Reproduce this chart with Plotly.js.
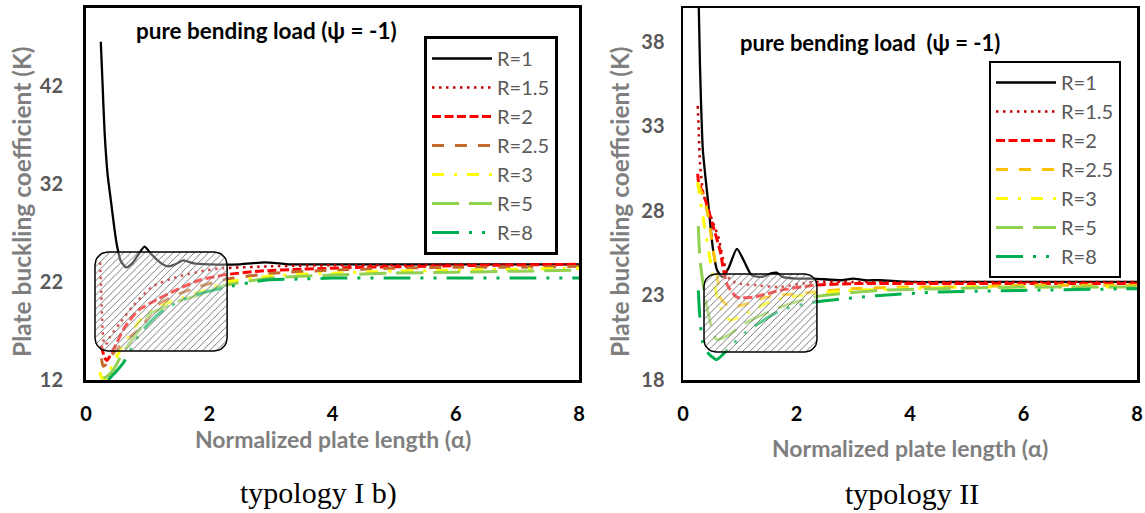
<!DOCTYPE html>
<html>
<head>
<meta charset="utf-8">
<script src="https://cdn.plot.ly/plotly-3.0.1.min.js"></script>
<style>
html,body{margin:0;padding:0;background:#ffffff;}
#chart{width:1145px;height:513px;}
</style>
</head>
<body>
<div id="chart"></div>
<script>
// ---------------- DATA ----------------
const seriesNames = ['R=1', 'R=1.5', 'R=2', 'R=2.5', 'R=3', 'R=5', 'R=8'];

// typology I b)  (alpha, K)
const aI_R1  = [0.24, 0.27, 0.30, 0.35, 0.41, 0.46, 0.50, 0.56, 0.65, 0.75, 0.85, 0.95, 1.05, 1.20, 1.33, 1.45, 1.58, 1.75, 2.0, 2.5, 2.9, 3.3, 4, 5, 6, 7, 8];
const kI_R1  = [46.5, 42.0, 37.5, 33.0, 30.0, 27.5, 25.8, 24.2, 23.5, 23.9, 24.8, 25.6, 24.9, 24.0, 23.6, 23.8, 24.2, 23.9, 23.8, 23.8, 24.0, 23.8, 23.8, 23.8, 23.8, 23.8, 23.8];
const aI_R15 = [0.23, 0.25, 0.27, 0.30, 0.35, 0.39, 0.55, 0.77, 1.07, 1.47, 1.96, 2.22, 3, 4, 5, 6, 7, 8];
const kI_R15 = [24.0, 20.5, 17.0, 15.6, 15.8, 16.4, 17.8, 19.6, 21.5, 22.5, 23.2, 23.4, 23.6, 23.7, 23.7, 23.8, 23.8, 23.8];
const aI_R2  = [0.25, 0.30, 0.34, 0.42, 0.50, 0.63, 0.85, 1.15, 1.47, 1.85, 2.22, 2.8, 3.5, 4.5, 5.5, 6.5, 8];
const kI_R2  = [15.5, 14.3, 14.0, 14.8, 15.8, 17.4, 19.1, 20.2, 21.2, 22.2, 22.7, 23.1, 23.3, 23.5, 23.6, 23.7, 23.8];
const aI_R25 = [0.25, 0.28, 0.33, 0.45, 0.66, 0.90, 1.15, 1.47, 1.82, 2.22, 3.04, 4, 5, 6, 7, 8];
const kI_R25 = [14.2, 13.4, 13.6, 14.8, 16.1, 17.4, 19.6, 20.7, 21.5, 22.2, 22.9, 23.2, 23.4, 23.5, 23.5, 23.6];
const aI_R3  = [0.22, 0.26, 0.31, 0.36, 0.44, 0.60, 0.88, 1.10, 1.42, 1.96, 2.22, 3, 4, 5, 6, 8];
const kI_R3  = [12.8, 12.2, 12.0, 12.6, 13.7, 15.5, 18.1, 19.2, 20.1, 21.2, 21.9, 22.6, 22.9, 23.1, 23.2, 23.4];
const aI_R5  = [0.28, 0.33, 0.44, 0.60, 0.90, 1.04, 1.20, 1.47, 1.80, 2.22, 3, 4, 5, 6, 7, 8];
const kI_R5  = [12.2, 12.3, 13.0, 14.8, 17.4, 18.8, 19.2, 20.0, 20.6, 21.6, 22.4, 22.7, 22.9, 23.0, 23.1, 23.2];
const aI_R8  = [0.36, 0.45, 0.60, 0.88, 1.25, 1.69, 2.22, 2.93, 3.5, 4, 5, 6, 7, 8];
const kI_R8  = [12.0, 12.6, 13.7, 16.8, 19.1, 20.5, 21.4, 22.2, 22.3, 22.4, 22.4, 22.4, 22.4, 22.4];

// typology II  (alpha, K)
const aII_R1  = [0.26, 0.30, 0.35, 0.44, 0.53, 0.60, 0.69, 0.80, 0.95, 1.08, 1.21, 1.40, 1.55, 1.65, 1.75, 2.0, 2.3, 2.8, 3.0, 3.2, 3.47, 4, 5, 6, 7, 8];
const kII_R1  = [43.0, 36.5, 31.6, 28.6, 25.7, 24.5, 24.1, 24.6, 25.75, 25.0, 24.2, 24.1, 24.3, 24.35, 24.1, 24.0, 24.0, 23.9, 24.0, 23.9, 23.9, 23.8, 23.8, 23.8, 23.8, 23.8];
const aII_R15 = [0.26, 0.28, 0.30, 0.36, 0.53, 0.62, 0.71, 0.83, 1.0, 1.3, 1.7, 2.3, 3, 4, 5, 6, 8];
const kII_R15 = [34.2, 32.5, 30.8, 29.0, 27.3, 26.5, 25.1, 23.9, 23.7, 23.6, 23.5, 23.8, 23.8, 23.8, 23.8, 23.8, 23.8];
const aII_R2  = [0.26, 0.27, 0.39, 0.53, 0.65, 0.77, 0.95, 1.24, 1.71, 2.3, 3, 4, 5, 6, 8];
const kII_R2  = [30.2, 29.8, 28.7, 27.1, 25.7, 23.7, 22.9, 22.9, 23.3, 23.6, 23.7, 23.7, 23.7, 23.7, 23.7];
const aII_R25 = [0.26, 0.33, 0.42, 0.56, 0.62, 0.65, 0.83, 1.12, 1.47, 2.3, 3, 4, 5, 6, 8];
const kII_R25 = [29.6, 29.1, 28.1, 25.1, 23.7, 22.9, 22.3, 22.5, 22.9, 23.2, 23.4, 23.5, 23.5, 23.6, 23.6];
const aII_R3  = [0.26, 0.27, 0.33, 0.50, 0.59, 0.70, 0.83, 1.12, 1.59, 2.3, 3, 4, 5, 6, 8];
const kII_R3  = [29.7, 29.4, 28.1, 24.7, 23.1, 22.0, 21.55, 21.95, 22.7, 23.1, 23.3, 23.4, 23.5, 23.5, 23.5];
const aII_R5  = [0.27, 0.30, 0.39, 0.50, 0.59, 0.77, 1.12, 1.71, 2.3, 3.47, 4.5, 6, 8];
const kII_R5  = [27.1, 25.1, 22.9, 21.15, 20.4, 20.6, 21.4, 22.3, 22.9, 23.3, 23.4, 23.5, 23.5];
const aII_R8  = [0.27, 0.30, 0.35, 0.44, 0.59, 0.70, 0.83, 1.12, 1.71, 2.3, 3.47, 4.5, 6, 8];
const kII_R8  = [23.3, 21.55, 20.2, 19.6, 19.2, 19.5, 19.97, 20.85, 22.1, 22.6, 23.0, 23.2, 23.3, 23.4];

// highlighted (hatched) regions: [alpha0, alpha1, K0, K1]
const zoneI  = [0.146, 2.29, 14.95, 25.06];
const zoneII = [0.37, 2.36, 19.66, 24.27];

// axis ticks
const xTicks   = [0, 2, 4, 6, 8];
const yTicksI  = [12, 22, 32, 42];
const yTicksII = [18, 23, 28, 33, 38];

// ---------------- STYLE ----------------
const W = 1145, H = 513;
const plotI  = {l: 86,  r: 579,  t: 7.5, b: 380};
const plotII = {l: 683, r: 1137, t: 8,   b: 380};
const rangeXI = [0, 8], rangeYI = [12, 50];
const rangeXII = [0, 8], rangeYII = [18, 40];

const colorsI  = ['#000000', '#C00000', '#FF0000', '#C46A2E', '#FFFF00', '#92D050', '#00B050'];
const colorsII = ['#000000', '#C00000', '#FF0000', '#FFC000', '#FFFF00', '#92D050', '#00B050'];
const dashes = ['solid', '2.5px,4.5px', '9px,3.5px', '12px,11px', '12px,10px,3px,10px', '27px,10px', '27px,10px,3px,10px,3px,10px'];
const widths = [2.3, 2.5, 3, 3, 3, 3, 3];

const seriesI  = [[aI_R1, kI_R1], [aI_R15, kI_R15], [aI_R2, kI_R2], [aI_R25, kI_R25], [aI_R3, kI_R3], [aI_R5, kI_R5], [aI_R8, kI_R8]];
const seriesII = [[aII_R1, kII_R1], [aII_R15, kII_R15], [aII_R2, kII_R2], [aII_R25, kII_R25], [aII_R3, kII_R3], [aII_R5, kII_R5], [aII_R8, kII_R8]];

const FONT = 'Lato, "Open Sans", sans-serif';

function px2paperX(x) { return x / W; }
function px2paperY(y) { return 1 - y / H; }

function roundedZone(z, plot, rx, ry, radiusPx) {
  const ux = (plot.r - plot.l) / (rx[1] - rx[0]);
  const uy = (plot.b - plot.t) / (ry[1] - ry[0]);
  const cx = radiusPx / ux, cy = radiusPx / uy;
  const [x0, x1, y0, y1] = z;
  const xs = [], ys = [];
  const corners = [
    [x1 - cx, y1 - cy, 0],
    [x0 + cx, y1 - cy, 90],
    [x0 + cx, y0 + cy, 180],
    [x1 - cx, y0 + cy, 270]
  ];
  corners.forEach(([ccx, ccy, a0]) => {
    for (let i = 0; i <= 8; i++) {
      const a = (a0 + i * 90 / 8) * Math.PI / 180;
      xs.push(ccx + cx * Math.cos(a));
      ys.push(ccy + cy * Math.sin(a));
    }
  });
  xs.push(xs[0]); ys.push(ys[0]);
  return [xs, ys];
}

const traces = [];
seriesI.forEach((s, i) => {
  traces.push({
    type: 'scatter', mode: 'lines', x: s[0], y: s[1], name: seriesNames[i],
    xaxis: 'x', yaxis: 'y', legend: 'legend',
    line: {color: colorsI[i], width: widths[i], dash: dashes[i], shape: 'spline', smoothing: 0.6}
  });
});
seriesII.forEach((s, i) => {
  traces.push({
    type: 'scatter', mode: 'lines', x: s[0], y: s[1], name: seriesNames[i],
    xaxis: 'x2', yaxis: 'y2', legend: 'legend2',
    line: {color: colorsII[i], width: widths[i], dash: dashes[i], shape: 'spline', smoothing: 0.6}
  });
});

const hatch = {shape: '/', size: 5, solidity: 0.17, fgcolor: '#666666', bgcolor: 'rgba(255,255,255,0.35)', fillmode: 'replace'};
const zI = roundedZone(zoneI, plotI, rangeXI, rangeYI, 13);
const zII = roundedZone(zoneII, plotII, rangeXII, rangeYII, 12);
traces.push({type: 'scatter', mode: 'lines', x: zI[0], y: zI[1], xaxis: 'x', yaxis: 'y', showlegend: false, hoverinfo: 'skip',
  fill: 'toself', fillcolor: 'rgba(255,255,255,0.35)', fillpattern: hatch, line: {color: '#000000', width: 1.5}});
traces.push({type: 'scatter', mode: 'lines', x: zII[0], y: zII[1], xaxis: 'x2', yaxis: 'y2', showlegend: false, hoverinfo: 'skip',
  fill: 'toself', fillcolor: 'rgba(255,255,255,0.35)', fillpattern: hatch, line: {color: '#000000', width: 1.5}});

function xAxis(plot, range, lw, anchor) {
  return {
    domain: [plot.l / W, plot.r / W], range: range, tickvals: xTicks, ticks: '', anchor: anchor,
    showline: true, mirror: true, linecolor: '#000000', linewidth: lw,
    showgrid: false, zeroline: false, fixedrange: true,
    tickfont: {family: FONT, size: 20, color: '#000000', weight: 700},
    ticklabelstandoff: 14
  };
}
function yAxis(plot, range, vals, lw, standoff, anchor) {
  return {
    domain: [1 - plot.b / H, 1 - plot.t / H], range: range, tickvals: vals, ticks: '', anchor: anchor,
    showline: true, mirror: true, linecolor: '#000000', linewidth: lw,
    showgrid: false, zeroline: false, fixedrange: true,
    tickfont: {family: FONT, size: 20, color: '#595959', weight: 700},
    ticklabelstandoff: standoff
  };
}

const titleFont = {family: FONT, size: 22.5, color: '#000000', weight: 700};
const titleFont2 = {family: FONT, size: 22, color: '#000000', weight: 700};
const axTitleFont = {family: FONT, size: 23, color: '#7F7F7F', weight: 700};
const yTitleFont = {family: FONT, size: 24.5, color: '#7F7F7F', weight: 700};
const capFont = {family: '"Liberation Serif", "Times New Roman", serif', size: 30, color: '#000000'};

function ann(text, x, y, font, extra) {
  return Object.assign({text: text, x: px2paperX(x), y: px2paperY(y), xref: 'paper', yref: 'paper',
    xanchor: 'center', yanchor: 'middle', showarrow: false, font: font}, extra || {});
}

const layout = {
  width: W, height: H,
  margin: {l: 0, r: 0, t: 0, b: 0},
  paper_bgcolor: '#ffffff', plot_bgcolor: '#ffffff',
  showlegend: true,
  xaxis: xAxis(plotI, rangeXI, 3, 'y'),
  yaxis: yAxis(plotI, rangeYI, yTicksI, 3, 16, 'x'),
  xaxis2: xAxis(plotII, rangeXII, 2.5, 'y2'),
  yaxis2: yAxis(plotII, rangeYII, yTicksII, 2.5, 12, 'x2'),
  legend: {x: 424 / W, y: 1 - 36 / H, xanchor: 'left', yanchor: 'top', bgcolor: '#ffffff',
    bordercolor: '#000000', borderwidth: 3, itemwidth: 60, tracegroupgap: 0,
    font: {family: FONT, size: 20, color: '#595959'}},
  legend2: {x: 989 / W, y: 1 - 61 / H, xanchor: 'left', yanchor: 'top', bgcolor: '#ffffff',
    bordercolor: '#000000', borderwidth: 2, itemwidth: 60, tracegroupgap: 0,
    font: {family: FONT, size: 20, color: '#595959'}},
  annotations: [
    ann('pure bending load (ψ = -1)', 266, 30, titleFont),
    ann('pure bending load \u00a0(ψ = -1)', 870, 42, titleFont2),
    ann('Plate buckling coefficient (K)', 21, 202, yTitleFont, {textangle: -90}),
    ann('Plate buckling coefficient (K)', 619, 202, yTitleFont, {textangle: -90}),
    ann('Normalized plate length (α)', 333, 439, axTitleFont),
    ann('Normalized plate length (α)', 910, 448, axTitleFont),
    ann('typology I b)', 318, 493, capFont),
    ann('typology II', 912, 493, capFont)
  ]
};

Plotly.newPlot('chart', traces, layout, {displayModeBar: false, staticPlot: true});
</script>
</body>
</html>
